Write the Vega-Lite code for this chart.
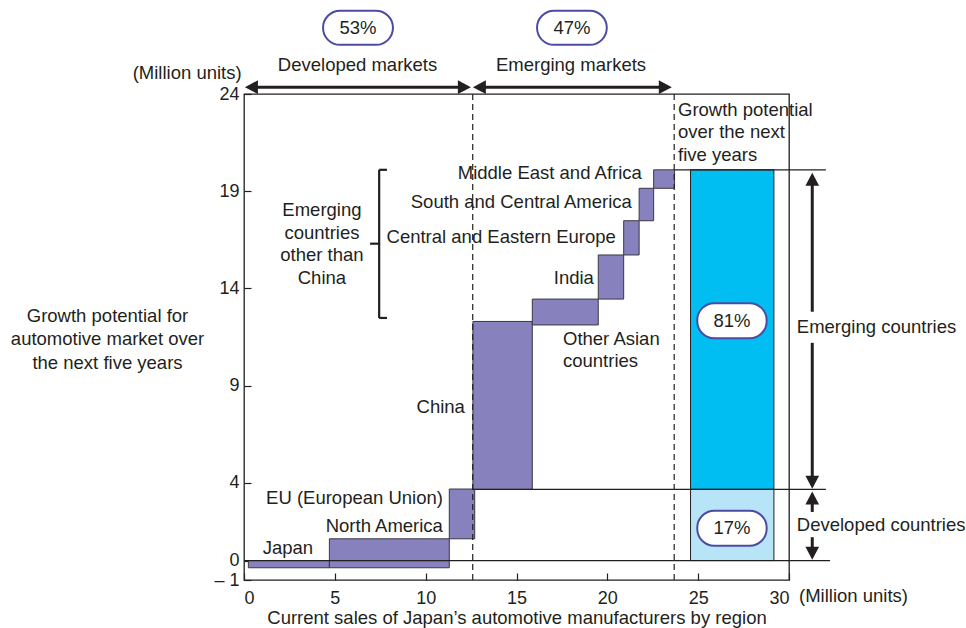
{
  "$schema": "https://vega.github.io/schema/vega-lite/v6.json",
  "width": 545,
  "height": 486,
  "autosize": {"type": "none"},
  "padding": {"left": 244, "top": 94, "right": 177, "bottom": 48},
  "background": "white",
  "config": {
    "font": "Liberation Sans",
    "view": {"stroke": "#231F20", "strokeWidth": 1.3},
    "axis": {
      "labelFont": "Liberation Sans", "labelFontSize": 18, "labelColor": "#231F20",
      "titleFont": "Liberation Sans", "titleFontSize": 18.5, "titleFontWeight": "normal", "titleColor": "#231F20",
      "domain": false, "grid": false, "tickColor": "#231F20", "tickWidth": 1.2, "tickSize": -7
    },
    "text": {"font": "Liberation Sans", "fontSize": 18.5, "fill": "#231F20"}
  },
  "datasets": {
    "regions": [
      {"label": "Japan", "x": 0.24, "x2": 4.7, "y": -0.37, "y2": 0},
      {"label": "North America", "x": 4.7, "x2": 11.3, "y": -0.37, "y2": 1.12},
      {"label": "EU (European Union)", "x": 11.3, "x2": 12.7, "y": 1.12, "y2": 3.68},
      {"label": "China", "x": 12.6, "x2": 15.87, "y": 3.66, "y2": 12.3},
      {"label": "Other Asian countries", "x": 15.87, "x2": 19.5, "y": 12.12, "y2": 13.45},
      {"label": "India", "x": 19.5, "x2": 20.9, "y": 13.45, "y2": 15.72},
      {"label": "Central and Eastern Europe", "x": 20.9, "x2": 21.75, "y": 15.72, "y2": 17.48},
      {"label": "South and Central America", "x": 21.75, "x2": 22.55, "y": 17.48, "y2": 19.15},
      {"label": "Middle East and Africa", "x": 22.55, "x2": 23.7, "y": 19.15, "y2": 20.1}
    ],
    "potential": [
      {"segment": "Emerging countries", "x": 24.58, "x2": 29.17, "y": 3.66, "y2": 20.1},
      {"segment": "Developed countries", "x": 24.58, "x2": 29.17, "y": 0, "y2": 3.66}
    ],
    "hlines": [
      {"x": 0, "x2": 32.26, "y": 0},
      {"x": 12.6, "x2": 32.03, "y": 3.66},
      {"x": 23.68, "x2": 32.03, "y": 20.1}
    ],
    "vdashed": [
      {"x": 12.59, "y": -1, "y2": 24},
      {"x": 23.68, "y": -1, "y2": 24}
    ],
    "arrowLines": [
      {"x": 0.3, "x2": 12.2, "y": 24.35, "y2": 24.35},
      {"x": 12.9, "x2": 23.35, "y": 24.35, "y2": 24.35},
      {"x": 31.28, "x2": 31.28, "y": 19.6, "y2": 12.8},
      {"x": 31.28, "x2": 31.28, "y": 11.2, "y2": 4.0},
      {"x": 31.28, "x2": 31.28, "y": 3.2, "y2": 2.5},
      {"x": 31.28, "x2": 31.28, "y": 1.2, "y2": 0.4}
    ],
    "arrowHeads": [
      {"x": 0.05, "y": 24.35, "dir": "left"},
      {"x": 12.49, "y": 24.35, "dir": "right"},
      {"x": 12.6, "y": 24.35, "dir": "left"},
      {"x": 23.55, "y": 24.35, "dir": "right"},
      {"x": 31.28, "y": 19.95, "dir": "up"},
      {"x": 31.28, "y": 3.69, "dir": "down"},
      {"x": 31.28, "y": 3.55, "dir": "up"},
      {"x": 31.28, "y": 0.04, "dir": "down"}
    ],
    "pills": [
      {"label": "53%", "x": 4.35, "x2": 8.2, "y": 26.53, "y2": 28.28, "cx": 6.27, "cy": 27.4},
      {"label": "47%", "x": 16.13, "x2": 19.97, "y": 26.53, "y2": 28.28, "cx": 18.05, "cy": 27.4},
      {"label": "81%", "x": 24.95, "x2": 28.77, "y": 11.44, "y2": 13.24, "cx": 26.86, "cy": 12.34},
      {"label": "17%", "x": 24.95, "x2": 28.77, "y": 0.76, "y2": 2.56, "cx": 26.86, "cy": 1.66}
    ],
    "labelsRight": [
      {"text": "Japan", "x": 3.8, "y": 0.65},
      {"text": "North America", "x": 10.95, "y": 1.78},
      {"text": "EU (European Union)", "x": 10.95, "y": 3.22},
      {"text": "China", "x": 12.16, "y": 7.9},
      {"text": "India", "x": 19.26, "y": 14.54},
      {"text": "Central and Eastern Europe", "x": 20.47, "y": 16.65},
      {"text": "South and Central America", "x": 21.35, "y": 18.45},
      {"text": "Middle East and Africa", "x": 21.9, "y": 19.94},
      {"text": "(Million units)", "x": -0.13, "y": 25.08}
    ],
    "labelsLeft": [
      {"text": "Other Asian\ncountries", "x": 17.56, "y": 11.41},
      {"text": "Growth potential\nover the next\nfive years", "x": 23.89, "y": 23.19},
      {"text": "Emerging countries", "x": 30.43, "y": 12.02},
      {"text": "Developed countries", "x": 30.43, "y": 1.84},
      {"text": "(Million units)", "x": 30.55, "y": -1.81}
    ],
    "labelsCenter": [
      {"text": "Emerging\ncountries\nother than\nChina", "x": 4.29, "y": 18.04},
      {"text": "Developed markets", "x": 6.25, "y": 25.5},
      {"text": "Emerging markets", "x": 18.0, "y": 25.5}
    ],
    "bracket": [
      {"part": "spine", "x": 7.44, "x2": 7.44, "y": 20.1, "y2": 12.48},
      {"part": "topSerif", "x": 7.44, "x2": 7.87, "y": 20.1, "y2": 20.1},
      {"part": "bottomSerif", "x": 7.44, "x2": 7.87, "y": 12.48, "y2": 12.48},
      {"part": "middle", "x": 6.94, "x2": 7.44, "y": 16.3, "y2": 16.3}
    ]
  },
  "encoding": {
    "x": {
      "field": "x", "type": "quantitative",
      "scale": {"domain": [0, 30], "nice": false, "zero": false},
      "axis": {
        "values": [0, 5, 10, 15, 20, 25, 30],
        "labelPadding": 16,
        "title": "Current sales of Japan’s automotive manufacturers by region",
        "titleBaseline": "middle",
        "titleY": 37
      }
    },
    "y": {
      "field": "y", "type": "quantitative",
      "scale": {"domain": [-1, 24], "nice": false, "zero": false},
      "axis": {
        "values": [-1, 0, 4, 9, 14, 19, 24],
        "labelPadding": 12,
        "labelExpr": "datum.value == -1 ? '– 1' : datum.label",
        "title": ["Growth potential for", "automotive market over", "the next five years"],
        "titleAngle": 0,
        "titleAlign": "center",
        "titleBaseline": "middle",
        "titleLineHeight": 23.5,
        "titleX": -137,
        "titleY": 221
      }
    }
  },
  "layer": [
    {
      "data": {"name": "potential"},
      "mark": {"type": "rect", "stroke": "#231F20", "strokeWidth": 1},
      "encoding": {
        "x2": {"field": "x2"},
        "y2": {"field": "y2"},
        "color": {"field": "segment", "type": "nominal", "legend": null,
          "scale": {"domain": ["Emerging countries", "Developed countries"], "range": ["#00BDF2", "#B8E4F7"]}}
      }
    },
    {
      "data": {"name": "regions"},
      "mark": {"type": "rect", "fill": "#8781BD", "stroke": "#3A3840", "strokeWidth": 1},
      "encoding": {"x2": {"field": "x2"}, "y2": {"field": "y2"}}
    },
    {
      "data": {"name": "hlines"},
      "mark": {"type": "rule", "color": "#231F20", "strokeWidth": 1.3},
      "encoding": {"x2": {"field": "x2"}}
    },
    {
      "data": {"name": "vdashed"},
      "mark": {"type": "rule", "color": "#231F20", "strokeWidth": 1.2, "strokeDash": [6, 4]},
      "encoding": {"y2": {"field": "y2"}}
    },
    {
      "data": {"name": "arrowLines"},
      "mark": {"type": "rule", "color": "#231F20", "strokeWidth": 3},
      "encoding": {"x2": {"field": "x2"}, "y2": {"field": "y2"}}
    },
    {
      "data": {"name": "arrowHeads"},
      "mark": {"type": "point", "filled": true, "size": 169, "opacity": 1, "color": "#231F20"},
      "encoding": {
        "shape": {"field": "dir", "type": "nominal", "legend": null,
          "scale": {"domain": ["left", "right", "up", "down"],
            "range": ["M0,0L2,-1.05L2,1.05Z", "M0,0L-2,-1.05L-2,1.05Z", "M0,0L-1.05,2L1.05,2Z", "M0,0L-1.05,-2L1.05,-2Z"]}}
      }
    },
    {
      "data": {"name": "bracket"},
      "mark": {"type": "rule", "color": "#231F20", "strokeWidth": 2.2},
      "encoding": {"x2": {"field": "x2"}, "y2": {"field": "y2"}}
    },
    {
      "data": {"name": "pills"},
      "mark": {"type": "rect", "fill": "white", "stroke": "#4B4BA5", "strokeWidth": 2, "cornerRadius": 17},
      "encoding": {"x2": {"field": "x2"}, "y2": {"field": "y2"}}
    },
    {
      "data": {"name": "pills"},
      "mark": {"type": "text", "align": "center", "baseline": "middle"},
      "encoding": {
        "x": {"field": "cx", "type": "quantitative"},
        "y": {"field": "cy", "type": "quantitative"},
        "text": {"field": "label"}
      }
    },
    {
      "data": {"name": "labelsRight"},
      "mark": {"type": "text", "align": "right", "baseline": "middle"},
      "encoding": {"text": {"field": "text"}}
    },
    {
      "data": {"name": "labelsLeft"},
      "mark": {"type": "text", "align": "left", "baseline": "middle", "lineBreak": "\n", "lineHeight": 22.5},
      "encoding": {"text": {"field": "text"}}
    },
    {
      "data": {"name": "labelsCenter"},
      "mark": {"type": "text", "align": "center", "baseline": "middle", "lineBreak": "\n", "lineHeight": 22.7},
      "encoding": {"text": {"field": "text"}}
    }
  ]
}
